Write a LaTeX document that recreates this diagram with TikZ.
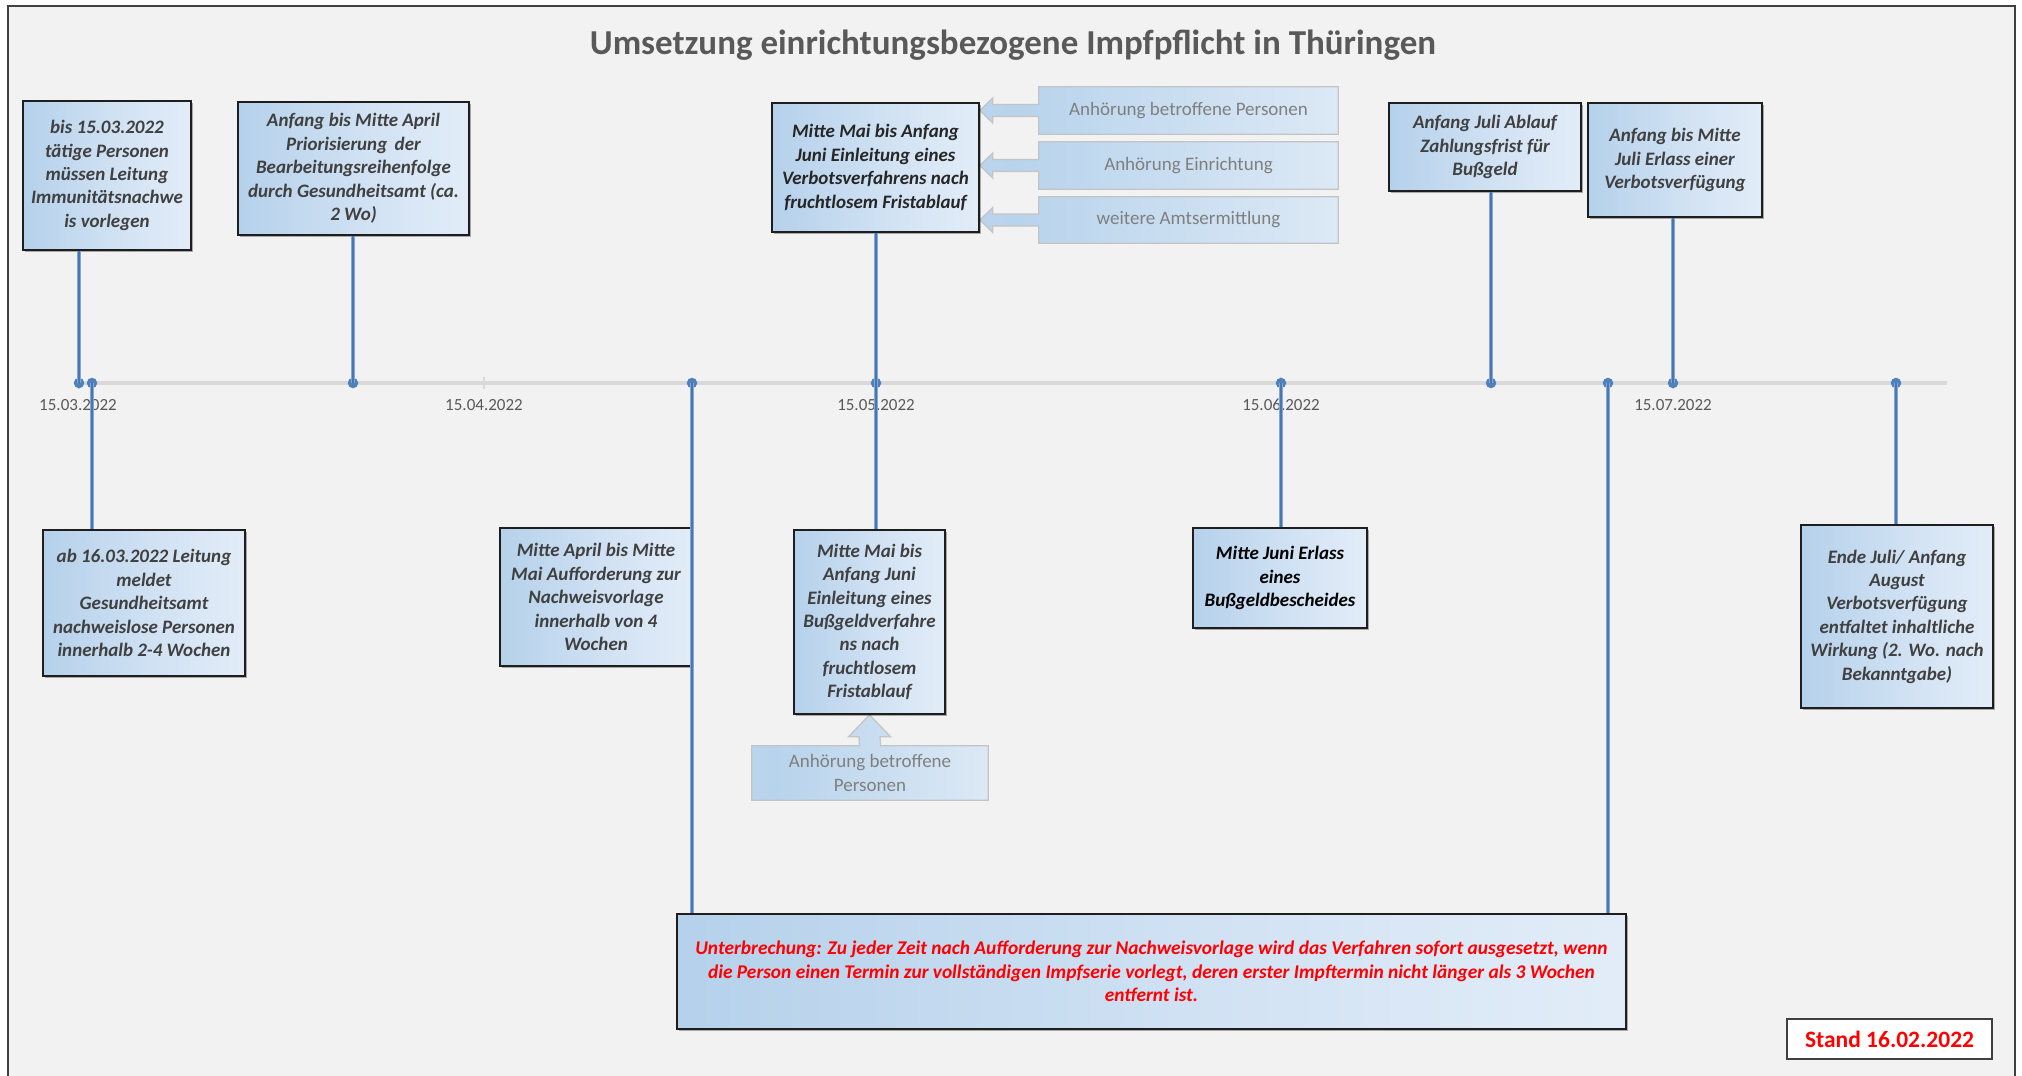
\documentclass[tikz,border=0pt]{standalone}
\usepackage{fontspec}
\setmainfont{Carlito}
\usetikzlibrary{calc,shadows}
\definecolor{bgc}{HTML}{F2F2F2}
\definecolor{framec}{HTML}{404040}
\definecolor{boxborder}{HTML}{1E1E1E}
\definecolor{txt}{HTML}{404040}
\definecolor{txtdark}{HTML}{262626}
\definecolor{titlec}{HTML}{595959}
\definecolor{datec}{HTML}{595959}
\definecolor{stemc}{HTML}{4F81BD}
\definecolor{stemcore}{HTML}{4677B4}
\definecolor{stemedge}{HTML}{86A7D2}
\definecolor{axisc}{HTML}{D9D9D9}
\definecolor{calloutborder}{HTML}{C4C4C4}
\definecolor{callouttxt}{HTML}{7F7F7F}
\definecolor{redc}{HTML}{FF0000}
\definecolor{gA}{HTML}{C3D9EF}
\definecolor{gB}{HTML}{B2CFEA}
\definecolor{gC}{HTML}{D3E3F4}
\definecolor{gD}{HTML}{F4F8FD}
\definecolor{hA}{HTML}{C9DDF1}
\definecolor{hB}{HTML}{B8D3EC}
\definecolor{hC}{HTML}{F0F5FB}
\pgfdeclarehorizontalshading{boxgrad}{100bp}{color(0bp)=(gA); color(22bp)=(gB); color(55bp)=(gC); color(100bp)=(gD)}
\pgfdeclarehorizontalshading{arrgrad}{100bp}{color(0bp)=(hA); color(30bp)=(hB); color(100bp)=(hC)}
\pgfdeclarelayer{bg}
\pgfdeclarelayer{arr}
\pgfsetlayers{bg,arr,main}
\tikzset{
  tbox/.style={draw=boxborder, line width=1.6pt, shade, shading=boxgrad,
    align=center, inner sep=2pt, text=txt,
    font=\fontsize{19pt}{23.4pt}\selectfont\bfseries\itshape,
    drop shadow={shadow xshift=1.5pt, shadow yshift=-1.5pt, opacity=.3, fill=black}},
  ctext/.style={align=center, inner sep=2pt, text=callouttxt,
    font=\fontsize{19pt}{23.4pt}\selectfont},
  callout/.style={draw=calloutborder, line width=1.3pt, shade, shading=arrgrad},
  stemline/.style={draw=stemedge, line width=0.8pt, double=stemcore, double distance=1.8pt},
  tdot/.style={circle, fill=stemc, inner sep=0pt, minimum size=10.5pt},
  axisline/.style={draw=axisc, line width=4pt},
  tickline/.style={draw=axisc, line width=1.5pt},
  datelbl/.style={text=datec, inner sep=0pt, font=\fontsize{17pt}{20pt}\selectfont},
}
\begin{document}
\begin{tikzpicture}[x=1pt, y=-1pt]
\useasboundingbox (0,0) rectangle (2022,1076);
% background and frame
\begin{pgfonlayer}{bg}
\fill[white] (0,0) rectangle (2022,1076);
\fill[bgc] (8,6) rectangle (2015,1090);
\draw[framec, line width=2.5pt] (8,1090) -- (8,6) -- (2015,6) -- (2015,1090);
\end{pgfonlayer}
% title
\node[anchor=base, text=titlec, inner sep=0pt, font=\fontsize{35pt}{40pt}\selectfont\bfseries] (title) at (1013,54) {Umsetzung einrichtungsbezogene Impfpflicht in Thüringen};
% axis
\coordinate (ax0) at (77,383);
\coordinate (ax1) at (1947,383);
\draw[axisline] (ax0) -- (ax1);
\foreach \tx/\nm in {79/t1,484/t2,876/t3,1281/t4,1673/t5}{
  \coordinate (\nm a) at (\tx,377);
  \coordinate (\nm b) at (\tx,389);
  \draw[tickline] (\nm a) -- (\nm b);
}
\node[datelbl] (l1) at (78,405) {15.03.2022};
\node[datelbl] (l2) at (484,405) {15.04.2022};
\node[datelbl] (l3) at (876,405) {15.05.2022};
\node[datelbl] (l4) at (1281,405) {15.06.2022};
\node[datelbl] (l5) at (1673,405) {15.07.2022};
% upper boxes
\node[tbox, minimum width=168pt, minimum height=149pt] (b1) at (107,175.5)
  {bis 15.03.2022\\tätige Personen\\müssen Leitung\\Immunitätsnachwe\\is vorlegen};
\node[tbox, minimum width=231pt, minimum height=133pt] (b2) at (353.5,168.5)
  {Anfang bis Mitte April\\Priorisierung\, der\\Bearbeitungsreihenfolge\\durch Gesundheitsamt (ca.\\2 Wo)};
\node[tbox, text=txtdark, minimum width=207pt, minimum height=129pt] (b3) at (875.5,167.5)
  {Mitte Mai bis Anfang\\Juni Einleitung eines\\Verbotsverfahrens nach\\fruchtlosem Fristablauf};
\node[tbox, minimum width=192pt, minimum height=88pt] (b4) at (1485,147)
  {Anfang Juli Ablauf\\Zahlungsfrist für\\Bußgeld};
\node[tbox, minimum width=174pt, minimum height=114pt] (b5) at (1675,160)
  {Anfang bis Mitte\\Juli Erlass einer\\Verbotsverfügung};
% callout texts
\node[ctext, minimum width=299pt, minimum height=47pt] (a1) at (1188.5,110.5) {Anhörung betroffene Personen};
\node[ctext, minimum width=299pt, minimum height=47pt] (a2) at (1188.5,165.5) {Anhörung Einrichtung};
\node[ctext, minimum width=299pt, minimum height=46pt] (a3) at (1188.5,220) {weitere Amtsermittlung};
% lower boxes
\node[tbox, minimum width=202pt, minimum height=146pt] (b6) at (144,603)
  {ab 16.03.2022 Leitung\\meldet\\Gesundheitsamt\\nachweislose Personen\\innerhalb 2-4 Wochen};
\node[tbox, minimum width=192pt, minimum height=138pt] (b7) at (596,597)
  {Mitte April bis Mitte\\Mai Aufforderung zur\\Nachweisvorlage\\innerhalb von 4\\Wochen};
\node[tbox, minimum width=151pt, minimum height=184pt] (b8) at (869.5,622)
  {Mitte Mai bis\\Anfang Juni\\Einleitung eines\\Bußgeldverfahre\\ns nach\\fruchtlosem\\Fristablauf};
\node[ctext, minimum width=236pt, minimum height=54pt] (u1) at (870,773) {Anhörung betroffene\\Personen};
\node[tbox, text=black, minimum width=174pt, minimum height=100pt] (b9) at (1280,578)
  {Mitte Juni Erlass\\eines\\Bußgeldbescheides};
\node[tbox, minimum width=192pt, minimum height=183pt] (b10) at (1897,616.5)
  {Ende Juli/ Anfang\\August\\Verbotsverfügung\\entfaltet inhaltliche\\Wirkung (2. Wo. nach\\Bekanntgabe)};
\node[tbox, text=redc, minimum width=949pt, minimum height=115pt,
  font=\fontsize{19.4pt}{23.4pt}\selectfont\bfseries\itshape] (b11) at (1151.5,971.5)
  {Unterbrechung: Zu jeder Zeit nach Aufforderung zur Nachweisvorlage wird das Verfahren sofort ausgesetzt, wenn\\die Person einen Termin zur vollständigen Impfserie vorlegt, deren erster Impftermin nicht länger als 3 Wochen\\entfernt ist.};
\node[draw=framec, line width=1.8pt, fill=white, text=redc, inner sep=0pt,
  minimum width=205pt, minimum height=40pt,
  font=\fontsize{23.5pt}{27pt}\selectfont\bfseries,
  drop shadow={shadow xshift=1.2pt, shadow yshift=-1.2pt, opacity=.25, fill=black}] (stand) at (1889.5,1039) {Stand 16.02.2022};
% callout shapes
\begin{pgfonlayer}{arr}
\foreach \a in {a1,a2,a3}{
  \path[callout] (\a.north west) -- (\a.north east) -- (\a.south east) -- (\a.south west)
    -- ($(\a.west)+(0,6)$) -- ($(b3.east |- \a.west)+(13,6)$) -- ++(0,6.5)
    -- (b3.east |- \a.west) -- ++(13,-12.5) -- ++(0,6.5)
    -- ($(\a.west)+(0,-6)$) -- cycle;
}
\path[callout] (u1.north west) -- ($(u1.north)+(-10.5,0)$) -- ($(b8.south)+(-10.5,22)$)
  -- ++(-10.5,0) -- (b8.south) -- ($(b8.south)+(21,22)$) -- ++(-10.5,0)
  -- ($(u1.north)+(10.5,0)$) -- (u1.north east) -- (u1.south east) -- (u1.south west) -- cycle;
\end{pgfonlayer}
% dots
\node[tdot] (d1) at (79,383) {};
\node[tdot] (d2) at (92,383) {};
\node[tdot] (d3) at (353,383) {};
\node[tdot] (d4) at (692,383) {};
\node[tdot] (d5) at (876,383) {};
\node[tdot] (d6) at (1281,383) {};
\node[tdot] (d7) at (1491,383) {};
\node[tdot] (d8) at (1608,383) {};
\node[tdot] (d9) at (1673,383) {};
\node[tdot] (d10) at (1896,383) {};
% stems
\draw[stemline] (b1.south -| d1) -- (d1.center);
\draw[stemline] (d2.center) -- (b6.north -| d2);
\draw[stemline] (b2.south -| d3) -- (d3.center);
\draw[stemline] (d4.center) -- (b11.north -| d4);
\draw[stemline] (b3.south -| d5) -- (b8.north -| d5);
\draw[stemline] (d6.center) -- (b9.north -| d6);
\draw[stemline] (b4.south -| d7) -- (d7.center);
\draw[stemline] (d8.center) -- (b11.north -| d8);
\draw[stemline] (b5.south -| d9) -- (d9.center);
\draw[stemline] (d10.center) -- (b10.north -| d10);
\end{tikzpicture}
\end{document}
